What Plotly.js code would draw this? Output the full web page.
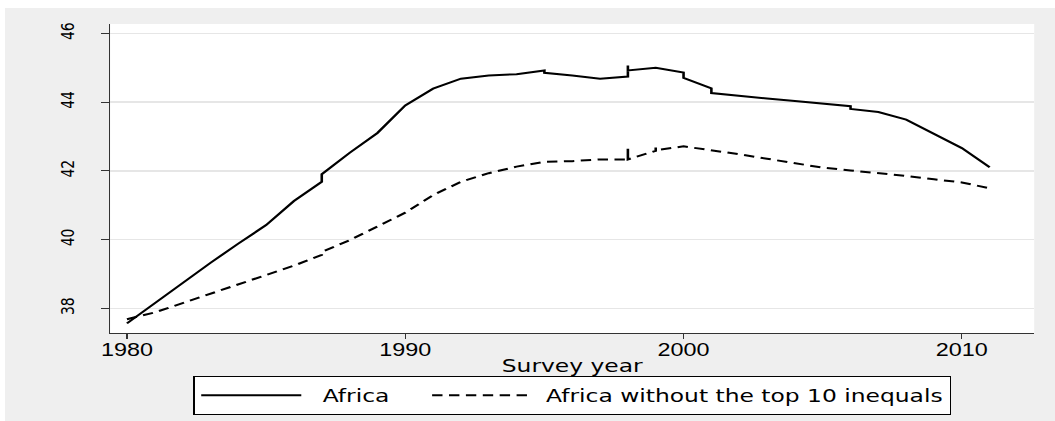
<!DOCTYPE html>
<html>
<head>
<meta charset="utf-8">
<script src="https://cdn.plot.ly/plotly-3.0.1.min.js"></script>
<style>
  html, body { margin: 0; padding: 0; background: #ffffff; overflow: hidden; }
  /* The reference graph is horizontally stretched; reproduce that by a uniform x-scale of the whole figure */
  #chart { position: absolute; left: 5px; top: 8px; width: 808px; height: 413px;
           transform: scaleX(1.2995); transform-origin: 0 0; }
</style>
</head>
<body>
<div id="chart"></div>
<script>
// Survey years (duplicates mark several surveys in the same year)
const yearsAfrica = [1980, 1981, 1982, 1983, 1984, 1985, 1986, 1987, 1987, 1988, 1989, 1990, 1991, 1992, 1993, 1994, 1995, 1995, 1996, 1997, 1998, 1998, 1998, 1999, 2000, 2000, 2001, 2001, 2002, 2003, 2004, 2005, 2006, 2006, 2007, 2008, 2009, 2010, 2011];
const valuesAfrica = [37.56, 38.15, 38.75, 39.32, 39.88, 40.42, 41.12, 41.68, 41.90, 42.52, 43.10, 43.90, 44.39, 44.68, 44.77, 44.81, 44.92, 44.85, 44.77, 44.68, 44.74, 45.06, 44.92, 45.00, 44.86, 44.70, 44.40, 44.26, 44.17, 44.10, 44.03, 43.95, 43.88, 43.80, 43.71, 43.49, 43.08, 42.66, 42.10];

const yearsNoTop = [1980, 1981, 1982, 1983, 1984, 1985, 1986, 1987, 1987, 1988, 1989, 1990, 1991, 1992, 1993, 1994, 1995, 1996, 1997, 1998, 1998, 1998, 1999, 1999, 1999, 2000, 2001, 2002, 2003, 2004, 2005, 2006, 2007, 2008, 2009, 2010, 2011];
const valuesNoTop = [37.68, 37.88, 38.15, 38.42, 38.68, 38.95, 39.24, 39.55, 39.64, 39.98, 40.37, 40.78, 41.29, 41.68, 41.93, 42.12, 42.26, 42.28, 42.33, 42.33, 42.64, 42.33, 42.58, 42.68, 42.60, 42.71, 42.60, 42.48, 42.35, 42.23, 42.09, 42.01, 41.94, 41.85, 41.75, 41.66, 41.49];

const seriesNames = ["Africa", "Africa without the top 10 inequals"];
const xTickVals = [1980, 1990, 2000, 2010];
const yTickVals = [38, 40, 42, 44, 46];
const xTitle = "Survey year";

// non-breaking spaces only pad the legend entries (gap after the key line and between entries)
const NB = "\u00a0";
const legendLabels = [NB + NB + seriesNames[0] + NB + NB + NB + NB, NB + seriesNames[1]];

const traces = [
  { x: yearsAfrica, y: valuesAfrica, name: legendLabels[0], type: "scatter", mode: "lines",
    line: { color: "#000000", width: 2, dash: "solid" } },
  { x: yearsNoTop, y: valuesNoTop, name: legendLabels[1], type: "scatter", mode: "lines",
    line: { color: "#000000", width: 2, dash: "8px,5px" } }
];

const layout = {
  width: 808, height: 413,
  paper_bgcolor: "#efefef",
  plot_bgcolor: "#ffffff",
  margin: { l: 80.8, r: 16.2, t: 16, b: 88, pad: 0, autoexpand: false },
  font: { family: "Liberation Sans, Arial, sans-serif", color: "#000000" },
  showlegend: true,
  legend: {
    orientation: "h", x: 0.5, xanchor: "center", y: -0.139, yanchor: "top",
    bgcolor: "#ffffff", bordercolor: "#000000", borderwidth: 1,
    font: { family: "DejaVu Sans, sans-serif", size: 18, color: "#000000" },
    itemwidth: 77, traceorder: "normal"
  },
  xaxis: {
    range: [1979.40, 2012.60],
    tickmode: "array", tickvals: xTickVals, ticktext: xTickVals.map(String),
    ticks: "outside", ticklen: 5, tickwidth: 1, tickcolor: "#333333",
    showline: true, linecolor: "#333333", linewidth: 1,
    showgrid: false, zeroline: false,
    ticklabelstandoff: -5,
    tickfont: { family: "Liberation Sans, Arial, sans-serif", size: 18, color: "#000000" },
    title: { text: xTitle, standoff: 0, font: { family: "DejaVu Sans, sans-serif", size: 18, color: "#000000" } }
  },
  yaxis: {
    range: [37.28, 46.27],
    tickmode: "array", tickvals: yTickVals, ticktext: yTickVals.map(String),
    ticks: "outside", ticklen: 6, tickwidth: 1, tickcolor: "#333333",
    tickangle: -90,
    showline: true, linecolor: "#333333", linewidth: 1,
    showgrid: true, gridcolor: "#e6e6e6", gridwidth: 1.5,
    zeroline: false,
    tickfont: { family: "DejaVu Sans, sans-serif", size: 14, color: "#000000" },
    ticklabelstandoff: 15
  }
};

Plotly.newPlot("chart", traces, layout, { displayModeBar: false, staticPlot: true });
</script>
</body>
</html>
